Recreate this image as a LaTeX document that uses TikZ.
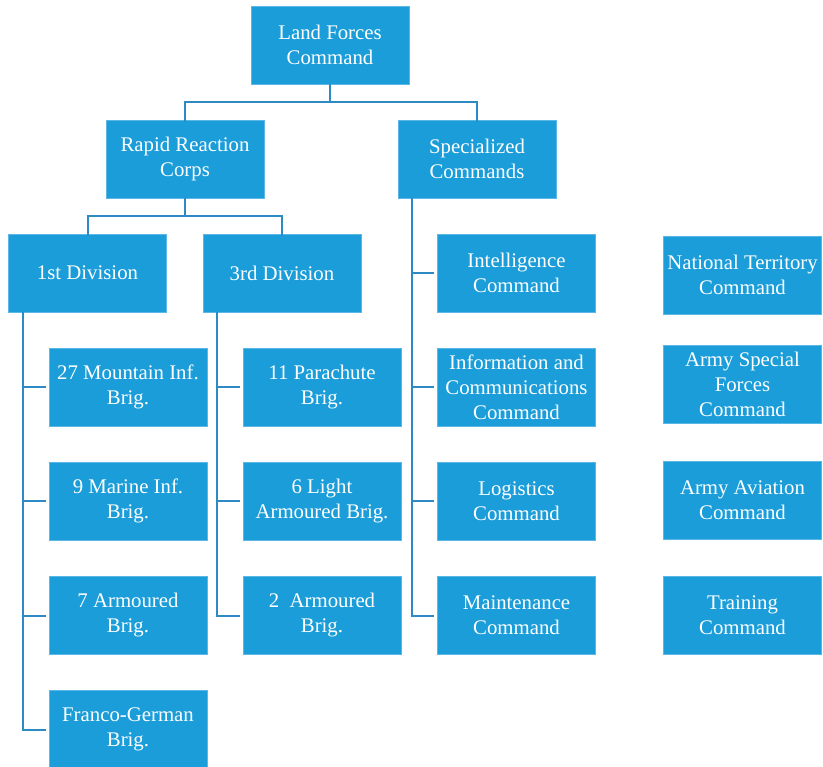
\documentclass[tikz,border=0pt]{standalone}
\usepackage{fontspec}
\setmainfont{Liberation Serif}
\definecolor{boxblue}{HTML}{1A9DD9}
\definecolor{boxedge}{HTML}{5BB8E6}
\definecolor{linkblue}{HTML}{2E8AC4}
\tikzset{
  orgbox/.style={rectangle, fill=boxblue, draw=boxedge, line width=0.8pt,
    minimum width=158pt, minimum height=78pt, inner sep=0pt,
    align=center, text=white, font=\fontsize{20.8}{25}\selectfont},
  link/.style={draw=linkblue, line width=2pt}
}
\begin{document}
\begin{tikzpicture}[x=1pt,y=-1pt]
\useasboundingbox (0,0) rectangle (823,767);
% top levels
\node[orgbox] (lfc) at (330,45) {Land Forces\\Command};
\node[orgbox] (rrc) at (185,159) {Rapid Reaction\\Corps};
\node[orgbox] (sc)  at (477,159) {Specialized\\Commands};
\node[orgbox] (d1)  at (87.5,273) {1st Division};
\node[orgbox] (d3)  at (282,273) {3rd Division};
% 1st division brigades
\node[orgbox] (b27) at (128,387) {27 Mountain Inf.\\Brig.};
\node[orgbox] (b9)  at (128,501) {9 Marine Inf.\\Brig.};
\node[orgbox] (b7)  at (128,615.5) {7 Armoured\\Brig.};
\node[orgbox] (bfg) at (128,729.5) {Franco-German\\Brig.};
% 3rd division brigades
\node[orgbox] (b11) at (322,387) {11 Parachute\\Brig.};
\node[orgbox] (b6)  at (322,501) {6 Light\\Armoured Brig.};
\node[orgbox] (b2)  at (322,615.5) {2\ \ Armoured\\Brig.};
% specialized commands
\node[orgbox] (ic)  at (516.5,273) {Intelligence\\Command};
\node[orgbox] (icc) at (516.5,387) {Information and\\Communications\\Command};
\node[orgbox] (lc)  at (516.5,501) {Logistics\\Command};
\node[orgbox] (mc)  at (516.5,615.5) {Maintenance\\Command};
% independent commands
\node[orgbox] (nt)  at (742.5,275) {National Territory\\Command};
\node[orgbox] (asf) at (742.5,384) {Army Special\\Forces\\Command};
\node[orgbox] (aa)  at (742.5,500) {Army Aviation\\Command};
\node[orgbox] (tc)  at (742.5,615) {Training\\Command};
% connectors
\draw[link] (lfc.south) -- ++(0,18) -| ([yshift=-2pt]rrc.north);
\draw[link] (lfc.south) -- ++(0,18) -| ([yshift=-2pt]sc.north);
\draw[link] (rrc.south) -- ++(0,18) -| ([yshift=-2pt]d1.north);
\draw[link] (rrc.south) -- ++(0,18) -| ([yshift=-2pt]d3.north);
\foreach \b in {b27,b9,b7,bfg}
  \draw[link] ([xshift=14.5pt]d1.south west) |- ([xshift=-3pt]\b.west);
\foreach \b in {b11,b6,b2}
  \draw[link] ([xshift=14pt]d3.south west) |- ([xshift=-3pt]\b.west);
\foreach \b in {ic,icc,lc,mc}
  \draw[link] ([xshift=14pt]sc.south west) |- ([xshift=-3pt]\b.west);
\end{tikzpicture}
\end{document}
